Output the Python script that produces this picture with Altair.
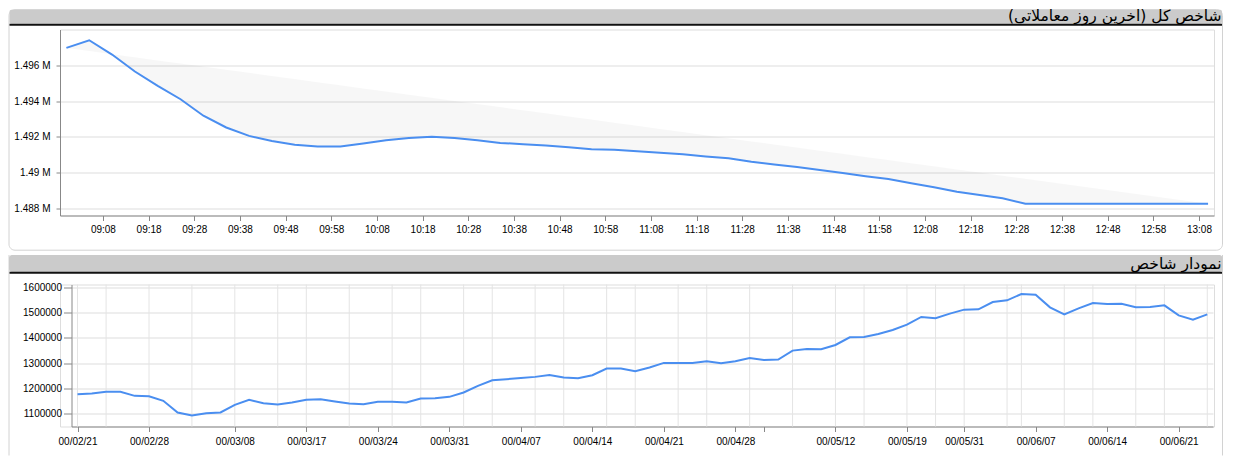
import json
import pandas as pd
import altair as alt

# ---------------- data: top panel (last trading day) ----------------
day = "2021-09-14"
times = ["09:00", "09:05", "09:10", "09:15", "09:20", "09:25", "09:30", "09:35",
         "09:40", "09:45", "09:50", "09:55", "10:00", "10:05", "10:10", "10:15",
         "10:20", "10:25", "10:30", "10:35", "10:40", "10:45", "10:50", "10:55",
         "11:00", "11:05", "11:10", "11:15", "11:20", "11:25", "11:30", "11:35",
         "11:40", "11:45", "11:50", "11:55", "12:00", "12:05", "12:10", "12:15",
         "12:20", "12:25", "12:30", "13:10"]
index_values = [1496970, 1497400, 1496600, 1495650, 1494850, 1494100, 1493180, 1492520,
                1492050, 1491760, 1491560, 1491460, 1491460, 1491630, 1491810, 1491930,
                1492010, 1491930, 1491810, 1491660, 1491590, 1491510, 1491410, 1491300,
                1491280, 1491190, 1491110, 1491020, 1490900, 1490800, 1490600, 1490450,
                1490310, 1490150, 1489980, 1489800, 1489640, 1489400, 1489180, 1488930,
                1488740, 1488560, 1488260, 1488260]
top_ticks = ["09:08", "09:18", "09:28", "09:38", "09:48", "09:58", "10:08", "10:18",
             "10:28", "10:38", "10:48", "10:58", "11:08", "11:18", "11:28", "11:38",
             "11:48", "11:58", "12:08", "12:18", "12:28", "12:38", "12:48", "12:58",
             "13:08"]
top_y_ticks = [1488000, 1490000, 1492000, 1494000, 1496000]

# ---------------- data: bottom panel (index history) ----------------
dates = ["00/02/21", "00/02/22", "00/02/25", "00/02/26", "00/02/27", "00/02/28", "00/02/29", "00/03/01",
         "00/03/02", "00/03/03", "00/03/04", "00/03/08", "00/03/09", "00/03/10", "00/03/11", "00/03/16",
         "00/03/17", "00/03/18", "00/03/19", "00/03/22", "00/03/23", "00/03/24", "00/03/25", "00/03/26",
         "00/03/29", "00/03/30", "00/03/31", "00/04/01", "00/04/02", "00/04/05", "00/04/06", "00/04/07",
         "00/04/08", "00/04/09", "00/04/12", "00/04/13", "00/04/14", "00/04/15", "00/04/16", "00/04/19",
         "00/04/20", "00/04/21", "00/04/22", "00/04/23", "00/04/26", "00/04/27", "00/04/28", "00/04/29",
         "00/04/30", "00/05/02", "00/05/03", "00/05/04", "00/05/10", "00/05/12", "00/05/13", "00/05/16",
         "00/05/17", "00/05/18", "00/05/19", "00/05/20", "00/05/27", "00/05/30", "00/05/31", "00/06/01",
         "00/06/02", "00/06/03", "00/06/06", "00/06/07", "00/06/08", "00/06/09", "00/06/10", "00/06/13",
         "00/06/14", "00/06/15", "00/06/16", "00/06/17", "00/06/20", "00/06/21", "00/06/22", "00/06/23"]
history_values = [1177400, 1180000, 1186600, 1186600, 1170900, 1169500, 1151200, 1105200,
                  1093400, 1102600, 1105200, 1135400, 1155100, 1142000, 1136700, 1144600,
                  1155100, 1157700, 1148600, 1140700, 1138100, 1147200, 1147200, 1144600,
                  1160400, 1161700, 1166900, 1184000, 1210200, 1232500, 1236500, 1241700,
                  1245700, 1253500, 1243000, 1240400, 1252200, 1278500, 1278500, 1268000,
                  1282400, 1300800, 1300800, 1300800, 1307300, 1299500, 1307300, 1320500,
                  1312600, 1313900, 1349300, 1355900, 1354600, 1371600, 1401800, 1403100,
                  1415000, 1430700, 1451700, 1481900, 1476700, 1495000, 1510800, 1512100,
                  1540900, 1547500, 1572400, 1569800, 1519900, 1492400, 1516000, 1537000,
                  1533000, 1534400, 1520000, 1521300, 1527800, 1488400, 1471400, 1492400]
labeled_dates = ["00/02/21", "00/02/28", "00/03/08", "00/03/17", "00/03/24", "00/03/31",
                 "00/04/07", "00/04/14", "00/04/21", "00/04/28", "00/05/12", "00/05/19",
                 "00/05/31", "00/06/07", "00/06/14", "00/06/21"]
unlabeled_tick_dates = ["00/04/30"]
minor_grid_dates = ["00/02/21", "00/02/25", "00/02/28", "00/03/02", "00/03/08", "00/03/11",
                    "00/03/17", "00/03/22", "00/03/25", "00/03/29", "00/04/01", "00/04/05",
                    "00/04/08", "00/04/12", "00/04/15", "00/04/19", "00/04/22", "00/04/26",
                    "00/04/29", "00/05/03", "00/05/12", "00/05/16", "00/05/19", "00/05/27",
                    "00/05/31", "00/06/03", "00/06/06", "00/06/09", "00/06/13", "00/06/16",
                    "00/06/20", "00/06/23"]
bottom_y_ticks = [1100000, 1200000, 1300000, 1400000, 1500000, 1600000]

title_top = "شاخص کل (آخرین روز معاملاتی)"
title_bottom = "نمودار شاخص"

# ---------------- styling / layout (page pixel coordinates) ----------------
BLUE = "#4a8ef0"
LABEL_FONT = "Liberation Sans"
TITLE_FONT = "DejaVu Sans"
TITLE_SIZE = 15.5
RLM = "\u200f"

ORIGIN_X = 59.5            # common left edge of both plot areas (page px)
PANEL_L, PANEL_R = 8.5, 1222
TOP_Y0, TOP_Y1 = 28.3, 214.3
BOT_Y0 = 282.0
BOT_X0, BOT_X1 = 71.0, 1212.5
W = 1154
H1 = TOP_Y1 - TOP_Y0
H2 = 142
TOP_BASELINE = 19.5
BOT_BASELINE = 266.0
pad_top = TOP_BASELINE - round(0.8 * TITLE_SIZE) - 8

one = pd.DataFrame({"k": [0]})


def px(x):
    return x - ORIGIN_X


# ---------------- top chart ----------------
top_df = pd.DataFrame({
    "t": pd.to_datetime([f"{day} {s}" for s in times]),
    "v": index_values,
})
t0, t1 = top_df["t"].iloc[0], top_df["t"].iloc[-1]
v0, v1 = top_df["v"].iloc[0], top_df["v"].iloc[-1]
top_df["chord"] = v0 + (v1 - v0) * ((top_df["t"] - t0) / (t1 - t0))


def dt(hm, sec=0):
    h, m = hm.split(":")
    return alt.DateTime(year=2021, month=9, date=14, hours=int(h), minutes=int(m), seconds=sec)


x_top = alt.X(
    "t:T",
    scale=alt.Scale(domain=[dt("08:58", 36), dt("13:11", 18)], nice=False),
    axis=alt.Axis(values=[dt(s) for s in top_ticks], format="%H:%M", title=None,
                  grid=False, tickSize=5, labelPadding=4, labelFlush=False,
                  labelOverlap=False),
)
y_top = alt.Y(
    "v:Q",
    scale=alt.Scale(domain=[1487600, 1498000], nice=False, zero=False),
    axis=alt.Axis(values=top_y_ticks, labelExpr="(round(datum.value/1000)/1000) + ' M'",
                  title=None, grid=True, tickSize=4, labelPadding=6),
)


def ty(y):
    return y - TOP_Y0


top_box = alt.Chart(one).mark_rect(
    fillOpacity=0, stroke="#d2d2d2", strokeWidth=1, cornerRadius=6
).encode(x=alt.value(px(PANEL_L)), x2=alt.value(px(PANEL_R)),
         y=alt.value(ty(8.5)), y2=alt.value(ty(249)))
top_head = alt.Chart(one).mark_rect(color="#cbcbcb", cornerRadius=2).encode(
    x=alt.value(px(PANEL_L + 0.5)), x2=alt.value(px(PANEL_R - 0.5)),
    y=alt.value(ty(8.5)), y2=alt.value(ty(22.6)))
top_head_line = alt.Chart(one).mark_rule(color="#111111", strokeWidth=2).encode(
    x=alt.value(px(PANEL_L + 0.5)), x2=alt.value(px(PANEL_R - 0.5)), y=alt.value(ty(23.6)))
top_title = alt.Chart(one).mark_text(
    align="right", baseline="alphabetic", font=TITLE_FONT, fontSize=TITLE_SIZE, color="black"
).encode(x=alt.value(px(PANEL_R - 1)), y=alt.value(ty(TOP_BASELINE)),
         text=alt.value(RLM + title_top + RLM))

top_area = alt.Chart(top_df).mark_area(color="#000000", opacity=0.03).encode(
    x=x_top, y=y_top, y2="chord:Q")
top_line = alt.Chart(top_df).mark_line(color=BLUE, strokeWidth=2).encode(x=x_top, y=y_top)

top = alt.layer(top_box, top_head, top_head_line, top_title, top_area, top_line).properties(
    width=W, height=H1)

# ---------------- bottom chart ----------------
hist_df = pd.DataFrame({"i": list(range(len(dates))), "date": dates, "v": history_values})
tick_idx = sorted([dates.index(d) for d in labeled_dates + unlabeled_tick_dates])
label_arr = [d if d in labeled_dates else "" for d in dates]
grid_df = pd.DataFrame({"g": [dates.index(d) for d in minor_grid_dates]})

x_axis_bottom = alt.Axis(values=tick_idx,
                         labelExpr=json.dumps(label_arr, ensure_ascii=False) + "[datum.value]",
                         title=None, grid=False, tickSize=5, labelPadding=5,
                         labelFlush=False, labelOverlap=False)
x_scale_bottom = alt.Scale(domain=[-0.42, 79.4], nice=False, zero=False,
                           range=[px(BOT_X0), px(BOT_X1)])
y_bottom = alt.Y(
    "v:Q",
    scale=alt.Scale(domain=[1050000, 1610000], nice=False, zero=False),
    axis=alt.Axis(values=bottom_y_ticks, format="d", title=None, grid=True,
                  tickSize=8, labelPadding=2, offset=-(BOT_X0 - ORIGIN_X)),
)


def by(y):
    return y - BOT_Y0


bot_bottom = 453
bot_border_l = alt.Chart(one).mark_rule(color="#d2d2d2", strokeWidth=1).encode(
    x=alt.value(px(PANEL_L)), y=alt.value(by(252.5)), y2=alt.value(by(bot_bottom)))
bot_border_r = alt.Chart(one).mark_rule(color="#d2d2d2", strokeWidth=1).encode(
    x=alt.value(px(PANEL_R)), y=alt.value(by(252.5)), y2=alt.value(by(bot_bottom)))
bot_head = alt.Chart(one).mark_rect(color="#cbcbcb", cornerRadius=3).encode(
    x=alt.value(px(PANEL_L)), x2=alt.value(px(PANEL_R)),
    y=alt.value(by(252.5)), y2=alt.value(by(269.5)))
bot_head_line = alt.Chart(one).mark_rule(color="#111111", strokeWidth=2).encode(
    x=alt.value(px(PANEL_L + 0.5)), x2=alt.value(px(PANEL_R - 0.5)), y=alt.value(by(270.3)))
bot_title = alt.Chart(one).mark_text(
    align="right", baseline="alphabetic", font=TITLE_FONT, fontSize=TITLE_SIZE, color="black"
).encode(x=alt.value(px(PANEL_R - 1)), y=alt.value(by(BOT_BASELINE)),
         text=alt.value(RLM + title_bottom + RLM))

bot_grid = alt.Chart(grid_df).mark_rule(color="#e4e4e4", strokeWidth=1).encode(
    x=alt.X("g:Q", scale=x_scale_bottom, axis=x_axis_bottom))
bot_line = alt.Chart(hist_df).mark_line(color=BLUE, strokeWidth=2).encode(
    x=alt.X("i:Q", scale=x_scale_bottom, axis=x_axis_bottom), y=y_bottom)

bottom = alt.layer(bot_border_l, bot_border_r, bot_head, bot_head_line, bot_title,
                   bot_grid, bot_line).properties(width=W, height=H2)

chart = alt.vconcat(top, bottom, spacing=2).properties(
    padding={"top": pad_top, "left": 0, "right": 0, "bottom": 0}
).configure_view(
    stroke=None
).configure_axis(
    labelFont=LABEL_FONT, labelFontSize=11, labelColor="#333333",
    domainColor="#000000", domainWidth=1, tickColor="#000000", tickWidth=1,
    gridColor="#7d7d7d", gridWidth=1,
).configure(background="white")

chart.save("out.html", embed_options={"renderer": "svg", "actions": False})
